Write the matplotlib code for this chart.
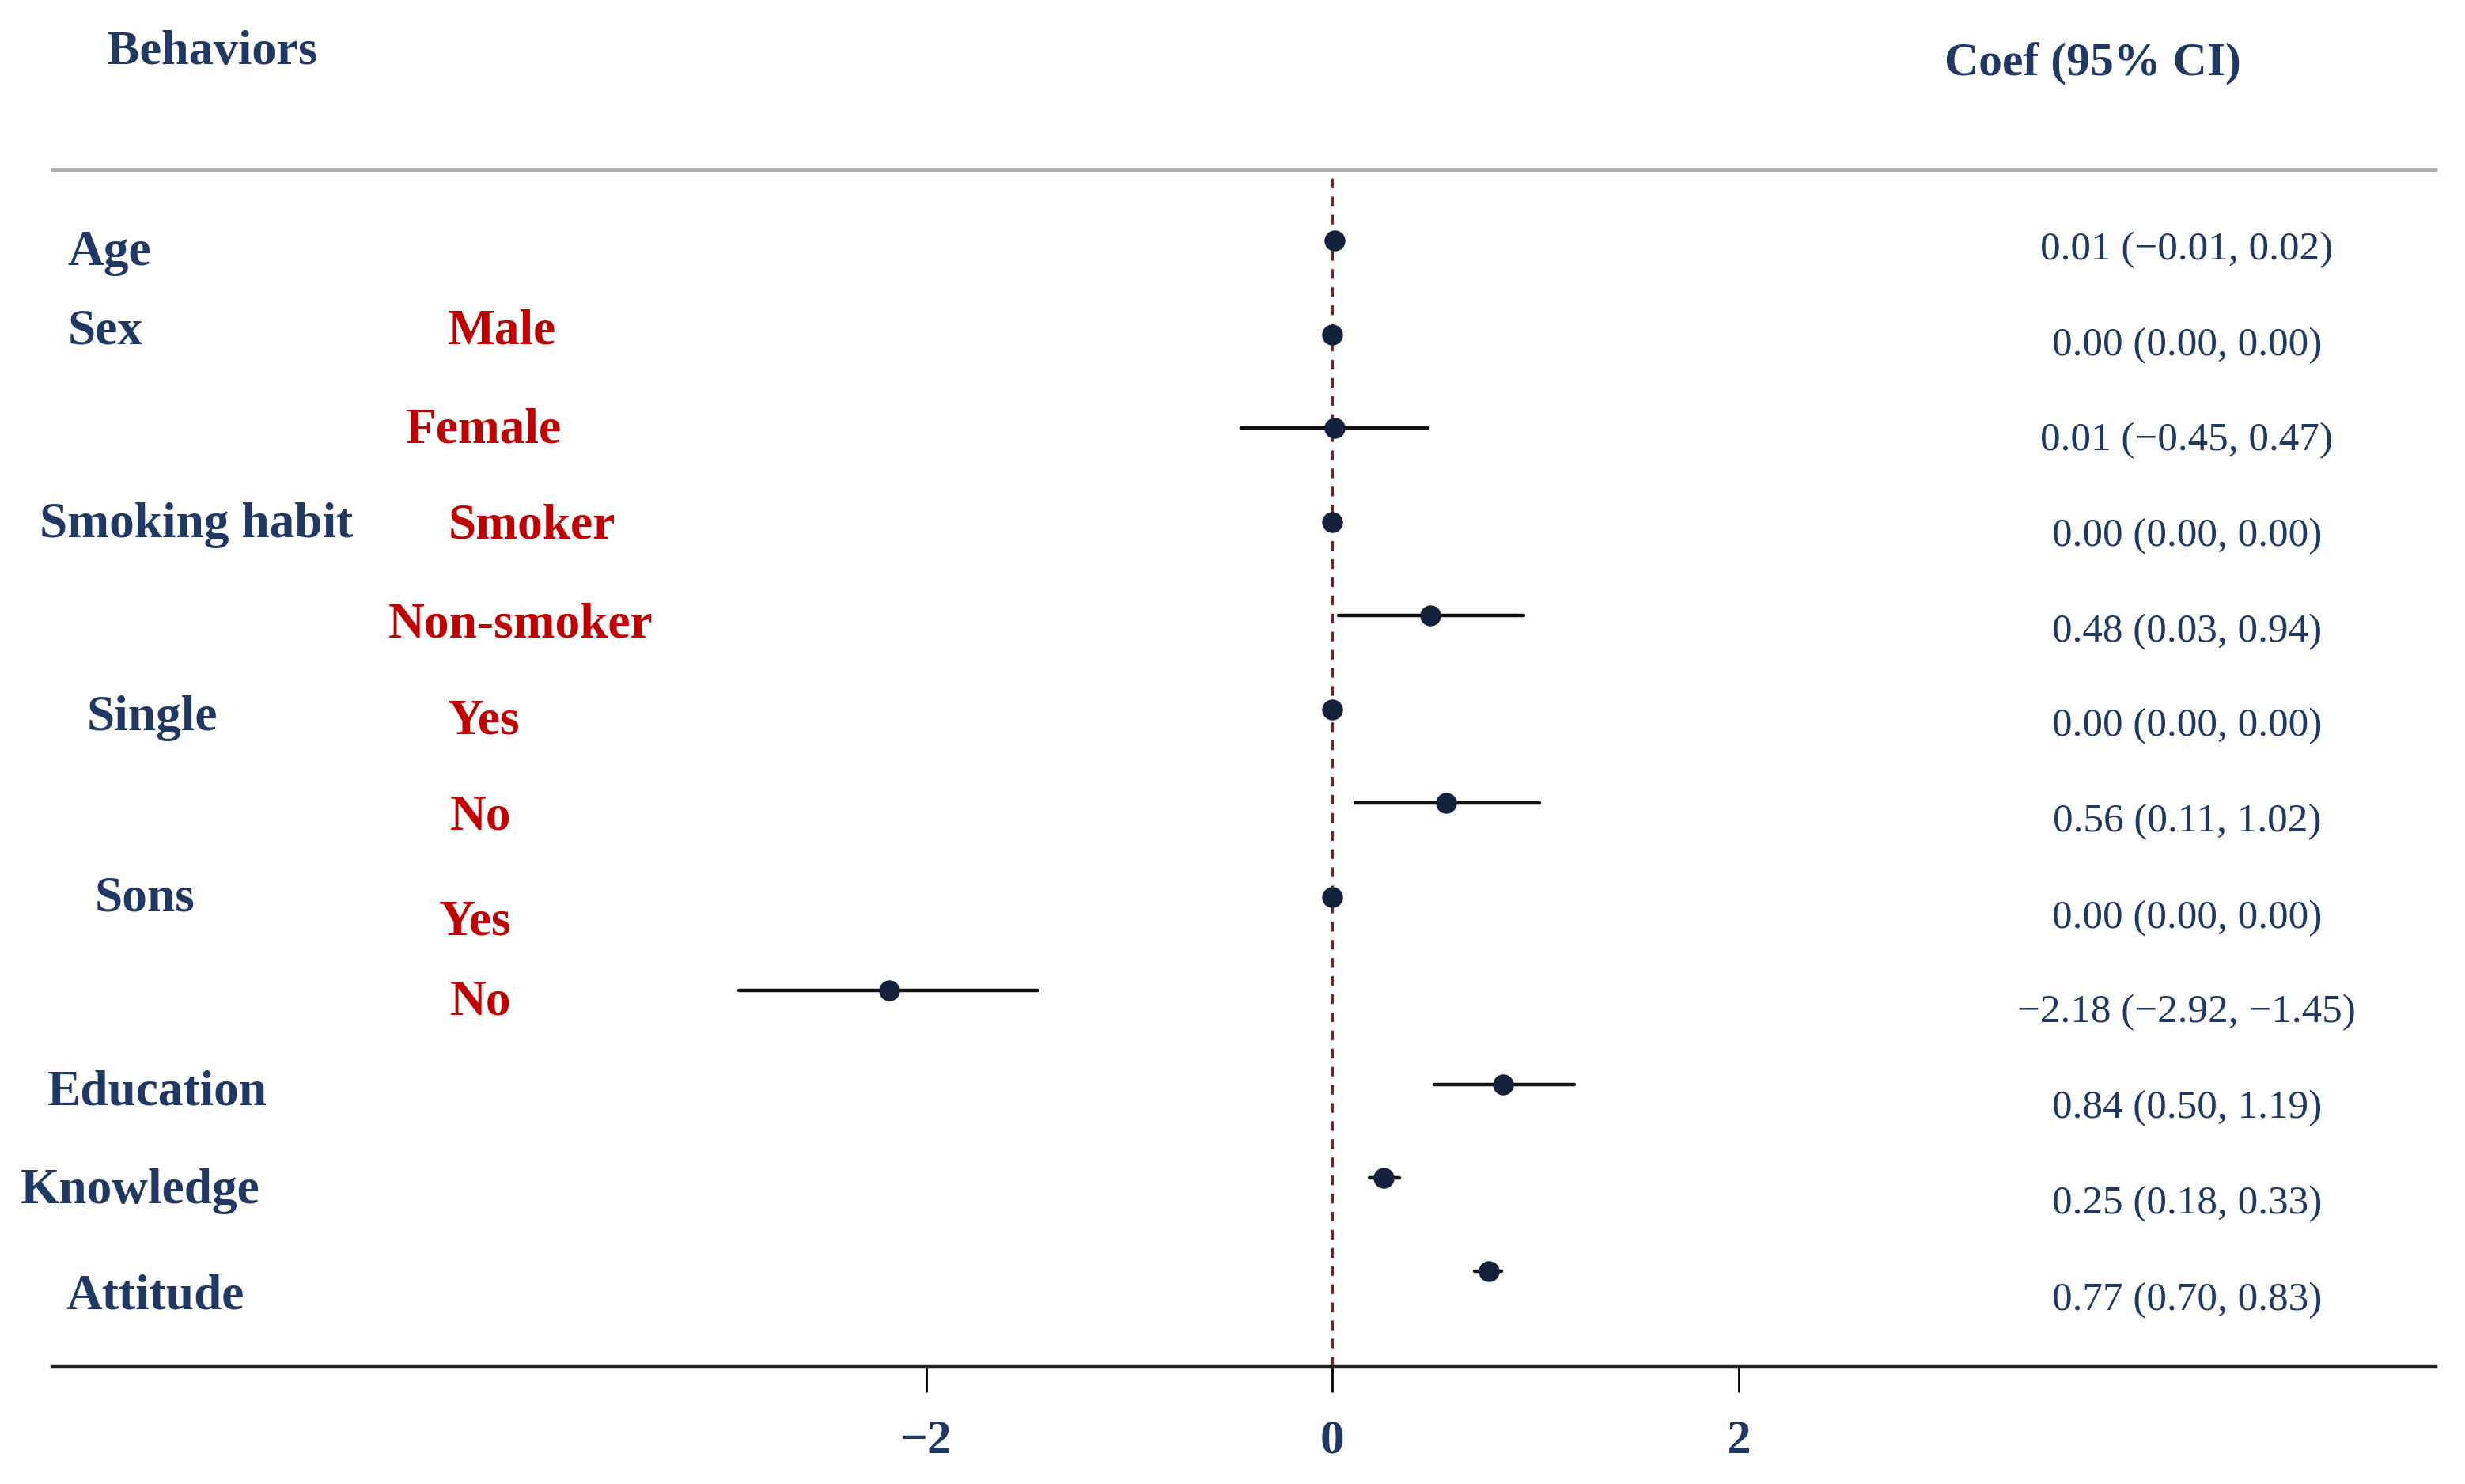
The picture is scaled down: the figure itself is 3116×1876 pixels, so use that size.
import matplotlib
matplotlib.use("Agg")
import matplotlib.pyplot as plt

# forest plot data (rows top to bottom)
groups = ["Age", "Sex", "", "Smoking habit", "", "Single", "", "Sons", "", "Education", "Knowledge", "Attitude"]
levels = ["", "Male", "Female", "Smoker", "Non-smoker", "Yes", "No", "Yes", "No", "", "", ""]
coef = [0.01, 0.00, 0.01, 0.00, 0.48, 0.00, 0.56, 0.00, -2.18, 0.84, 0.25, 0.77]
ci_low = [-0.01, 0.00, -0.45, 0.00, 0.03, 0.00, 0.11, 0.00, -2.92, 0.50, 0.18, 0.70]
ci_high = [0.02, 0.00, 0.47, 0.00, 0.94, 0.00, 1.02, 0.00, -1.45, 1.19, 0.33, 0.83]
xticks = [-2, 0, 2]

NAVY = "#1f3864"
RED = "#c00000"
FONT = "Liberation Serif"

# label placement (figure pixels of a 1568x944 frame)
W, H = 1568.0, 944.0
group_x = [43, 43, 0, 25, 0, 55, 0, 60, 0, 30, 13, 42]
group_y = [161, 211, 0, 334, 0, 457, 0, 572, 0, 695, 758, 825]
level_x = [0, 285, 258, 285, 247, 285, 286, 279, 286, 0, 0, 0]
level_y = [0, 211, 274, 335, 398, 459, 520, 587, 638, 0, 0, 0]
coef_text_y = [159, 220, 280, 341, 402, 462, 523, 584, 644, 705, 766, 827]

fig = plt.figure(figsize=(15.58, 9.38), dpi=200)
ax = fig.add_axes([0.0212, 0.0794, 0.967, 0.806])

rows = list(range(len(coef)))
for r, c, lo, hi in zip(rows, coef, ci_low, ci_high):
    if hi > lo:
        ax.plot([lo, hi], [r, r], color="#111111", lw=1.6, solid_capstyle="round", zorder=2)
ax.plot(coef, rows, "o", color="#14213d", markersize=8.5, zorder=3, linestyle="none")
ax.axvline(0, color="#8b1a1a", lw=1.1, linestyle=(0, (4, 3.5)), zorder=1)

ax.set_xlim(-6.30, 5.43)
ax.set_ylim(12.01, -0.755)
ax.set_yticks([])
ax.set_xticks(xticks)
ax.set_xticklabels(["\u22122", "0", "2"])
for lab in ax.get_xticklabels():
    lab.set_fontfamily(FONT)
    lab.set_fontweight("bold")
    lab.set_fontsize(22)
    lab.set_color(NAVY)
ax.tick_params(axis="x", length=12, width=1.0, color="black", pad=12)

for s in ["left", "right"]:
    ax.spines[s].set_visible(False)
ax.spines["bottom"].set_color("#222222")
ax.spines["bottom"].set_linewidth(1.6)
ax.spines["top"].set_color("#b0b0b0")
ax.spines["top"].set_linewidth(1.6)

# headers
fig.text(68 / W, 1 - 33 / H, "Behaviors", fontfamily=FONT, fontweight="bold",
         fontsize=22.4, color=NAVY, ha="left", va="center")
fig.text(1331 / W, 1 - 41 / H, "Coef (95% CI)", fontfamily=FONT, fontweight="bold",
         fontsize=21.5, color=NAVY, ha="center", va="center")

# row labels
for g, gx, gy in zip(groups, group_x, group_y):
    if g:
        fig.text(gx / W, 1 - gy / H, g, fontfamily=FONT, fontweight="bold",
                 fontsize=22.8, color=NAVY, ha="left", va="center")
for lv, lx, ly in zip(levels, level_x, level_y):
    if lv:
        fig.text(lx / W, 1 - ly / H, lv, fontfamily=FONT, fontweight="bold",
                 fontsize=22.8, color=RED, ha="left", va="center")


def fmt(v):
    return f"{v:.2f}".replace("-", "\u2212")


for c, lo, hi, ty in zip(coef, ci_low, ci_high, coef_text_y):
    fig.text(1391 / W, 1 - ty / H, f"{fmt(c)} ({fmt(lo)}, {fmt(hi)})", fontfamily=FONT,
             fontsize=18.4, color=NAVY, ha="center", va="center")

fig.savefig("out.png", dpi=200, facecolor="white")
